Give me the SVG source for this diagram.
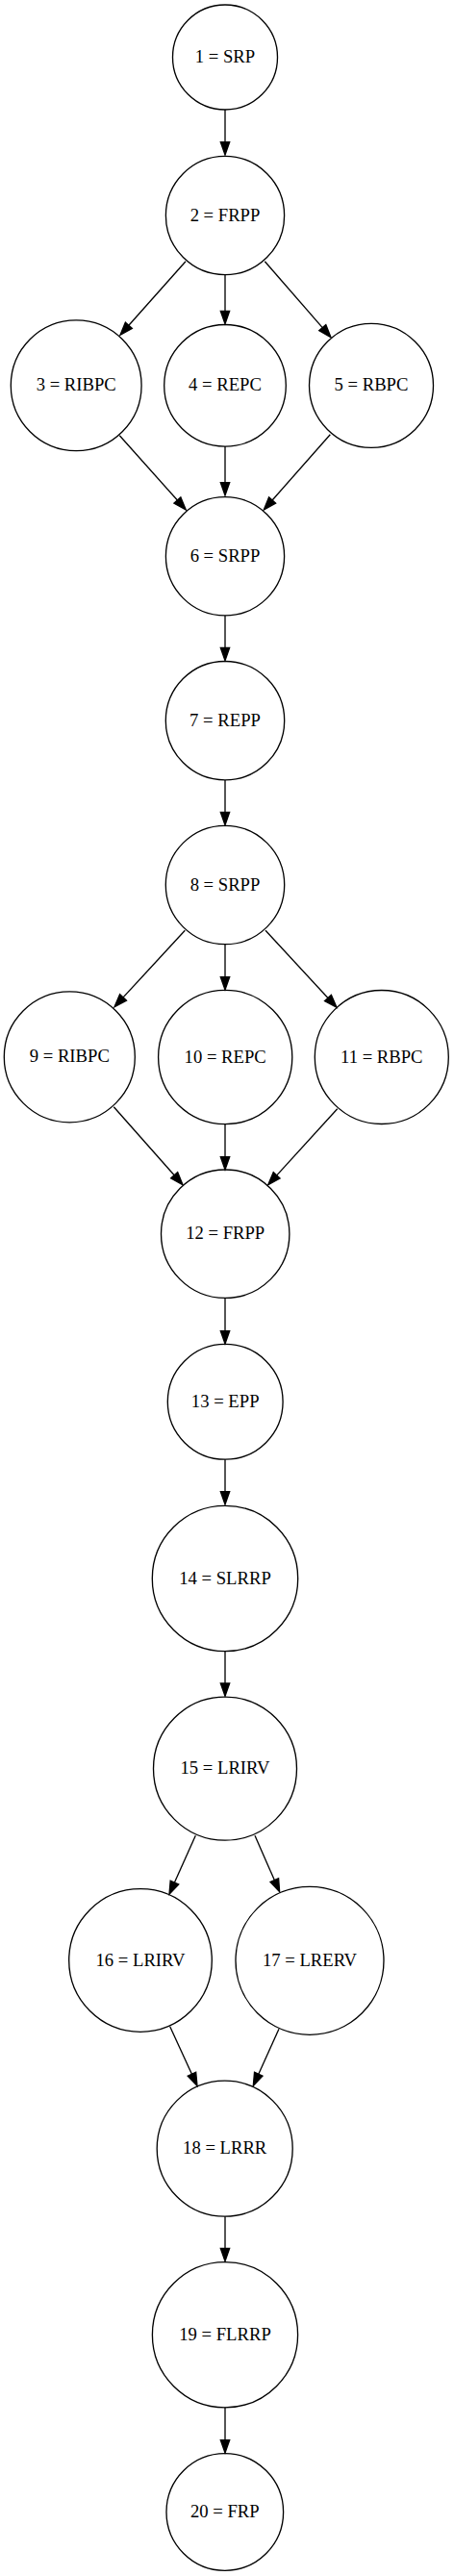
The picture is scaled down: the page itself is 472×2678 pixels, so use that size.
<svg xmlns="http://www.w3.org/2000/svg" width="472" height="2678" viewBox="0 0 472 2678">
<style>
.n ellipse{fill:none;stroke:#000;stroke-width:1.33}
.n text{font-family:"Liberation Serif","Times New Roman",serif;font-size:18.67px;text-anchor:middle;fill:#000}
.e line{stroke:#000;stroke-width:1.33;marker-end:url(#ah)}
</style>
<defs>
<marker id="ah" markerUnits="userSpaceOnUse" orient="auto" refX="0" refY="0" markerWidth="16" markerHeight="12" viewBox="0 -6 16 12" overflow="visible">
<path d="M0,-4.67 L13.33,0 L0,4.67 z" fill="#000" stroke="#000" stroke-width="1.33"/>
</marker>
</defs>
<rect width="472" height="2678" fill="#fff"/>
<g id="edges" class="e">
<line x1="234" y1="114" x2="234" y2="147.7"/>
<line x1="193" y1="271.7" x2="133.85" y2="338.3"/>
<line x1="234" y1="285.7" x2="234" y2="323.4"/>
<line x1="275.3" y1="271.7" x2="335.25" y2="340.6"/>
<line x1="124.3" y1="452.7" x2="184.4" y2="520.05"/>
<line x1="234" y1="464" x2="234" y2="501.7"/>
<line x1="343.3" y1="451.7" x2="283.1" y2="520"/>
<line x1="234" y1="640" x2="234" y2="673.4"/>
<line x1="234" y1="811" x2="234" y2="844.4"/>
<line x1="192.3" y1="967.3" x2="128.04" y2="1036.9"/>
<line x1="234" y1="981.7" x2="234" y2="1015.7"/>
<line x1="276" y1="967.3" x2="340.95" y2="1037.5"/>
<line x1="118.3" y1="1150.7" x2="181.16" y2="1221.7"/>
<line x1="234" y1="1168.7" x2="234" y2="1202.7"/>
<line x1="350.7" y1="1152.7" x2="287.7" y2="1221.85"/>
<line x1="234" y1="1349.3" x2="234" y2="1383.7"/>
<line x1="234" y1="1517.3" x2="234" y2="1550.7"/>
<line x1="234" y1="1716.7" x2="234" y2="1750"/>
<line x1="203.3" y1="1908.3" x2="181.45" y2="1957.1"/>
<line x1="265" y1="1908.3" x2="285.3" y2="1954.5"/>
<line x1="176.7" y1="2106.7" x2="199.44" y2="2156.2"/>
<line x1="290" y1="2109.3" x2="268.8" y2="2156.2"/>
<line x1="234" y1="2304.3" x2="234" y2="2337.4"/>
<line x1="234" y1="2502.7" x2="234" y2="2536.7"/>
</g>
<g id="node1" class="n"><ellipse cx="234" cy="59.5" rx="54.5" ry="54.5"/><text x="234" y="65.1">1 = SRP</text></g>
<g id="node2" class="n"><ellipse cx="234" cy="224" rx="61.6" ry="61.6"/><text x="234" y="229.6">2 = FRPP</text></g>
<g id="node3" class="n"><ellipse cx="79.2" cy="400.7" rx="67.9" ry="67.9"/><text x="79.2" y="406.3">3 = RIBPC</text></g>
<g id="node4" class="n"><ellipse cx="234" cy="400.8" rx="63.3" ry="63.3"/><text x="234" y="406.4">4 = REPC</text></g>
<g id="node5" class="n"><ellipse cx="386" cy="400.8" rx="64.5" ry="64.5"/><text x="386" y="406.4">5 = RBPC</text></g>
<g id="node6" class="n"><ellipse cx="234" cy="578.3" rx="61.6" ry="61.6"/><text x="234" y="583.9">6 = SRPP</text></g>
<g id="node7" class="n"><ellipse cx="234" cy="749.2" rx="61.7" ry="61.7"/><text x="234" y="754.8">7 = REPP</text></g>
<g id="node8" class="n"><ellipse cx="234" cy="920" rx="61.7" ry="61.7"/><text x="234" y="925.6">8 = SRPP</text></g>
<g id="node9" class="n"><ellipse cx="72.3" cy="1098.8" rx="68" ry="68"/><text x="72.3" y="1104.4">9 = RIBPC</text></g>
<g id="node10" class="n"><ellipse cx="234.2" cy="1099" rx="69.6" ry="69.6"/><text x="234.2" y="1104.6">10 = REPC</text></g>
<g id="node11" class="n"><ellipse cx="396.8" cy="1099" rx="69.5" ry="69.5"/><text x="396.8" y="1104.6">11 = RBPC</text></g>
<g id="node12" class="n"><ellipse cx="234.2" cy="1282.7" rx="66.7" ry="66.7"/><text x="234.2" y="1288.3">12 = FRPP</text></g>
<g id="node13" class="n"><ellipse cx="234.2" cy="1457.3" rx="59.9" ry="59.9"/><text x="234.2" y="1462.9">13 = EPP</text></g>
<g id="node14" class="n"><ellipse cx="234" cy="1641" rx="75.7" ry="75.7"/><text x="234" y="1646.6">14 = SLRRP</text></g>
<g id="node15" class="n"><ellipse cx="234" cy="1838.7" rx="74.5" ry="74.5"/><text x="234" y="1844.3">15 = LRIRV</text></g>
<g id="node16" class="n"><ellipse cx="146" cy="2038" rx="74.3" ry="74.3"/><text x="146" y="2043.6">16 = LRIRV</text></g>
<g id="node17" class="n"><ellipse cx="322" cy="2038.3" rx="77" ry="77"/><text x="322" y="2043.9">17 = LRERV</text></g>
<g id="node18" class="n"><ellipse cx="233.7" cy="2233.7" rx="70.5" ry="70.5"/><text x="233.7" y="2239.3">18 = LRRR</text></g>
<g id="node19" class="n"><ellipse cx="234" cy="2427.2" rx="75.6" ry="75.6"/><text x="234" y="2432.8">19 = FLRRP</text></g>
<g id="node20" class="n"><ellipse cx="233.8" cy="2611.5" rx="60.8" ry="60.8"/><text x="233.8" y="2617.1">20 = FRP</text></g>
</svg>
